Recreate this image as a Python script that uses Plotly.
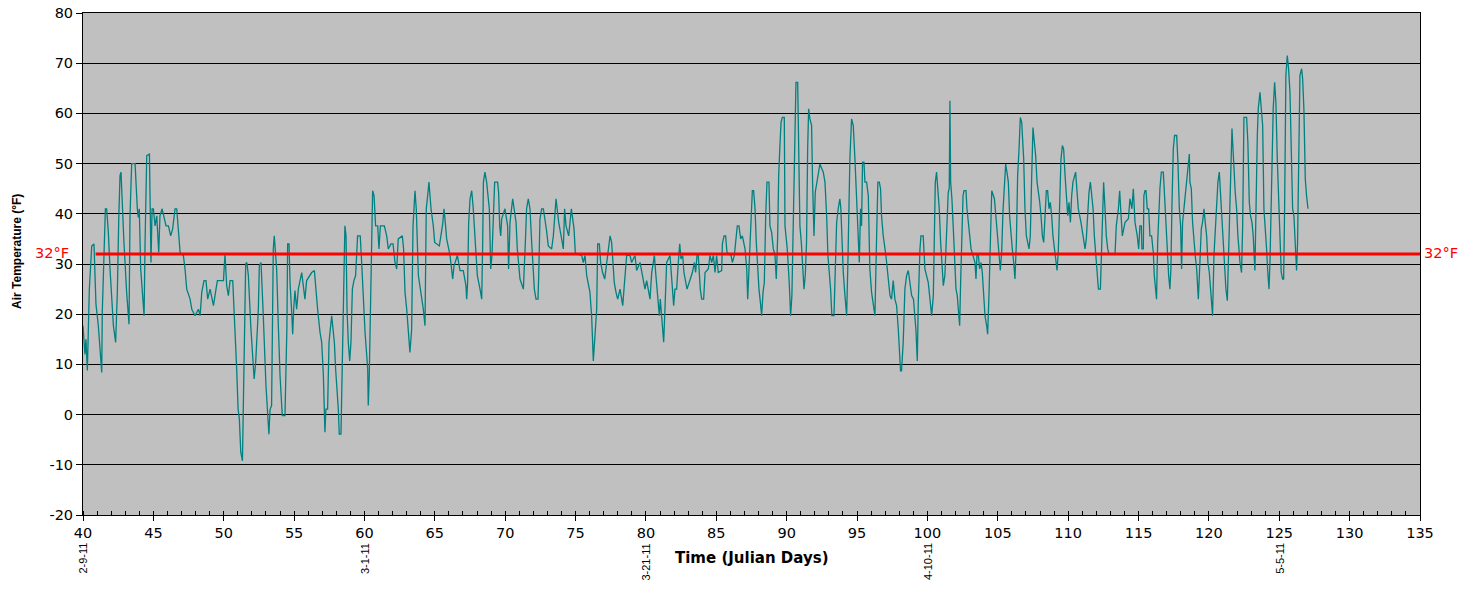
import plotly.graph_objects as go

# ---- data (Julian day, air temperature in °F) ----
julian_day = [
    40.00, 40.14, 40.21, 40.31, 40.38, 40.45, 40.55, 40.62, 40.78, 40.85, 40.92, 41.09, 41.33, 41.37, 41.49,
    41.59, 41.68, 41.80, 41.92, 42.16, 42.32, 42.44, 42.54, 42.63, 42.70, 42.77, 42.91, 43.10, 43.27, 43.34,
    43.46, 43.70, 43.77, 43.86, 43.93, 44.00, 44.10, 44.24, 44.34, 44.41, 44.53, 44.72, 44.76, 44.83, 44.91,
    45.00, 45.12, 45.24, 45.38, 45.47, 45.62, 45.76, 45.90, 46.07, 46.23, 46.37, 46.54, 46.66, 46.78, 46.90,
    47.13, 47.25, 47.37, 47.61, 47.73, 47.96, 48.20, 48.32, 48.44, 48.60, 48.74, 48.86, 49.03, 49.27, 49.45,
    49.55, 49.98, 50.09, 50.21, 50.33, 50.45, 50.64, 50.73, 50.81, 50.92, 51.02, 51.11, 51.21, 51.33, 51.40,
    51.47, 51.56, 51.64, 51.75, 51.92, 52.06, 52.16, 52.27, 52.35, 52.46,
    52.53, 52.65, 52.81, 53.00, 53.21, 53.29, 53.40, 53.45, 53.52, 53.59, 53.76, 53.88, 54.00, 54.16, 54.35,
    54.49, 54.54, 54.64, 54.71, 54.83, 54.90, 54.97, 55.06, 55.18, 55.30, 55.54, 55.65, 55.77, 55.89, 56.13,
    56.25, 56.44, 56.53, 56.67, 56.84, 56.96, 57.08, 57.15, 57.19, 57.26, 57.38, 57.48, 57.67, 57.86, 57.95,
    58.14, 58.21, 58.33, 58.40, 58.47, 58.54, 58.61, 58.69, 58.76, 58.85, 58.95, 59.04, 59.14, 59.25, 59.37,
    59.51, 59.70, 59.80, 59.92, 60.04, 60.23, 60.27, 60.34, 60.41, 60.51, 60.58, 60.68, 60.79, 60.94, 61.03,
    61.13, 61.41, 61.58, 61.69, 61.88, 62.03, 62.17, 62.29, 62.40, 62.69, 62.78, 62.88, 63.00, 63.12, 63.23,
    63.35, 63.45, 63.59, 63.68, 63.83, 64.06, 64.18, 64.30, 64.39, 64.49, 64.58, 64.73,
    64.89, 64.99, 65.32, 65.56, 65.65, 65.75, 65.84, 66.08, 66.27, 66.36, 66.60, 66.79, 67.02, 67.21, 67.26,
    67.33, 67.40, 67.50, 67.62, 67.73, 67.85, 68.02, 68.21, 68.33, 68.40, 68.45, 68.56, 68.68, 68.87, 68.97,
    69.06, 69.16, 69.25, 69.46, 69.53, 69.61, 69.68, 69.75, 69.98, 70.17, 70.24, 70.34, 70.53, 70.77, 70.86,
    71.05, 71.29, 71.43, 71.52, 71.64, 71.76, 71.88, 72.07, 72.19, 72.33, 72.38, 72.47, 72.59, 72.71, 72.94,
    73.06, 73.30, 73.42, 73.61, 73.80, 74.01, 74.13, 74.22, 74.32, 74.51, 74.70, 74.89, 74.98, 75.08, 75.43,
    75.55, 75.67, 75.79, 76.02, 76.14, 76.26, 76.36, 76.50, 76.57, 76.69, 76.78, 76.92, 77.07,
    77.21, 77.33, 77.45, 77.56, 77.63, 77.75, 77.87, 77.99, 78.16, 78.35, 78.44, 78.56, 78.63, 78.87, 78.98,
    79.22, 79.34, 79.58, 79.70, 79.93, 80.05, 80.29, 80.41, 80.60, 80.69, 80.88, 80.95, 81.02, 81.19, 81.26,
    81.35, 81.47, 81.71, 81.87, 81.97, 82.06, 82.18, 82.30, 82.40, 82.49, 82.61, 82.70, 82.92, 83.15, 83.30,
    83.44, 83.53, 83.63, 83.72, 83.86, 83.96, 84.10, 84.20, 84.43, 84.55, 84.67, 84.79, 84.91, 85.02, 85.14,
    85.38, 85.43, 85.55, 85.66, 85.76, 86.04, 86.14, 86.28, 86.37, 86.49, 86.61, 86.73, 86.85, 87.04, 87.16,
    87.23, 87.32, 87.39, 87.46, 87.56, 87.65, 87.75, 87.84, 87.94, 88.03, 88.13, 88.22, 88.32, 88.41, 88.51,
    88.60, 88.74, 88.81, 88.93, 89.05, 89.17, 89.26, 89.36, 89.43, 89.52, 89.60, 89.69, 89.83,
    89.88, 90.04, 90.18, 90.28, 90.37, 90.47, 90.51, 90.59, 90.66, 90.78, 90.85, 90.94, 91.04, 91.13, 91.23,
    91.32, 91.41, 91.49, 91.56, 91.65, 91.77, 91.84, 91.94, 92.03, 92.13, 92.36, 92.60, 92.72, 92.84, 92.93,
    93.12, 93.21, 93.36, 93.43, 93.55, 93.66, 93.78, 93.85, 93.93, 94.02, 94.14, 94.26, 94.35, 94.42, 94.49,
    94.61, 94.73, 94.85, 94.97, 95.09, 95.16, 95.25, 95.32, 95.39, 95.49, 95.56, 95.68, 95.80, 95.91, 96.03,
    96.15, 96.27, 96.39, 96.48, 96.58, 96.67, 96.74, 96.86, 97.05, 97.22, 97.34, 97.45, 97.57, 97.69, 97.81,
    97.93, 98.00, 98.09, 98.16, 98.28, 98.40, 98.52, 98.64, 98.76, 98.88, 99.01, 99.11, 99.18, 99.28, 99.35,
    99.47, 99.54, 99.70, 99.82, 100.06, 100.18, 100.30, 100.42, 100.49, 100.56, 100.65, 100.75, 100.84, 100.94, 101.03,
    101.13, 101.24, 101.36, 101.48, 101.55, 101.60, 101.65, 101.74, 101.84, 101.93, 102.03, 102.12,
    102.29, 102.36, 102.43, 102.53, 102.60, 102.74, 102.81, 103.03, 103.10, 103.38, 103.45, 103.52, 103.62, 103.71, 103.81,
    103.90, 104.00, 104.09, 104.21, 104.28, 104.38, 104.47, 104.57, 104.76, 104.85, 104.94, 105.04, 105.18, 105.28, 105.37,
    105.47, 105.56, 105.65, 105.75, 105.84, 105.94, 106.03, 106.13, 106.22, 106.32, 106.41, 106.51, 106.60, 106.70, 106.77,
    106.84, 106.93, 107.03, 107.22, 107.31, 107.41, 107.50, 107.60, 107.69, 107.79, 107.88, 107.98, 108.07, 108.17, 108.26,
    108.36, 108.45, 108.54, 108.64, 108.73, 108.83, 108.92, 109.11, 109.21, 109.30, 109.40, 109.49, 109.59, 109.68, 109.78,
    109.87, 109.97, 110.06, 110.16, 110.25, 110.34, 110.53, 110.63, 110.72, 110.91, 111.10, 111.20, 111.29, 111.39, 111.48,
    111.58, 111.67, 111.77, 111.86, 111.96, 112.05, 112.15, 112.29, 112.38, 112.45, 112.52, 112.62, 112.71, 112.81, 112.90,
    113.33, 113.42, 113.57, 113.66, 113.76, 113.85, 114.04, 114.28,
    114.39, 114.53, 114.63, 114.75, 114.91, 115.01, 115.10, 115.20, 115.24, 115.34, 115.38, 115.46, 115.53, 115.62, 115.72,
    115.81, 115.93, 116.05, 116.12, 116.28, 116.36, 116.43, 116.52, 116.62, 116.76, 116.85, 116.95, 117.04, 117.14, 117.23,
    117.30, 117.37, 117.47, 117.56, 117.71, 117.80, 117.90, 117.99, 118.06, 118.13, 118.32, 118.42, 118.51, 118.61, 118.65,
    118.75, 118.84, 118.94, 119.03, 119.13, 119.25, 119.36, 119.46, 119.55, 119.65, 119.74, 119.84, 119.93, 120.03, 120.12,
    120.22, 120.26, 120.36, 120.45, 120.55, 120.64, 120.74, 120.83, 120.93, 121.02, 121.12, 121.21, 121.31, 121.40, 121.50,
    121.54, 121.64, 121.69, 121.78, 121.87, 121.97, 122.06, 122.21, 122.32, 122.40, 122.44, 122.49, 122.68, 122.77, 122.87,
    122.96, 123.06, 123.15, 123.27, 123.34, 123.44, 123.51, 123.63, 123.72, 123.82, 123.91, 124.01, 124.10, 124.17, 124.27,
    124.34, 124.46, 124.57, 124.67, 124.76, 124.86, 124.95, 125.05, 125.14, 125.24, 125.31, 125.38, 125.47, 125.57, 125.66,
    125.76, 125.85, 125.95, 126.04, 126.11, 126.23, 126.30, 126.37, 126.47, 126.59, 126.66, 126.75, 126.85, 126.94, 127.04,
]

air_temp_f = [
    17.7, 12, 15, 8.8, 17, 25, 30, 33.6, 34, 28, 22, 17.7, 8.4, 20.4, 29.7,
    41, 41, 36.3, 29, 17.7, 14.4, 24.4, 39, 47.6, 48.3, 42.3, 34.3, 24.4, 18, 39.6,
    50, 50, 44.9, 41, 39.3, 41, 29, 24.4, 19.7, 34.3, 51.6, 51.9, 41, 30.3, 41,
    41, 37.6, 39.6, 32.3, 39.6, 41, 39.3, 37.6, 37.6, 35.6, 37, 41, 41, 35.6, 32.3,
    31.7, 29, 25, 23, 21, 19.7, 21, 19.7, 24.4, 26.7, 26.7, 23, 25, 21.7, 25,
    26.7, 26.7, 32, 25.7, 23.7, 26.7, 26.7, 21, 17, 9.1, 1.1, -0.9, -7.5, -9.2, 3.1,
    17, 30, 30.3, 27.7, 17.7, 10.4, 7.1, 10.4, 14.4, 21,
    29.7, 30.3, 19.7, 5.8, -3.9, 1, 1.8, 17.7, 33, 35.6, 29, 17.7, 7.8, -0.2, -0.2,
    17.7, 34, 34, 26.3, 20.4, 16, 21, 24.7, 21, 25, 28.3, 25.6, 23, 26.7, 27.7,
    28.3, 28.7, 25, 21, 16.4, 14.4, 7.8, 1.1, -3.5, 1.1, 1.1, 14.4, 19.7, 14.4, 9.1,
    1.1, -3.9, -3.9, 6.4, 14.4, 24.4, 37.6, 35.6, 21, 14.4, 10.7, 14.4, 25, 26.7, 27.7,
    35.6, 35.6, 30.3, 23.7, 16.4, 9.1, 1.8, 7.8, 17.7, 37.6, 44.6, 43.6, 37.6, 37.6, 33,
    37.6, 37.6, 35.6, 33, 34, 34, 30.3, 29, 35, 35.6, 33, 24.4, 21, 16.4, 12.4,
    16.9, 37.6, 44.6, 41, 27.7, 23.7, 21, 17.7, 41, 43.6, 46.3, 41,
    37.6, 34.3, 33.6, 38, 41, 38, 35, 31.7, 27, 29.6, 31.7, 28.7, 28.7, 25.7, 23,
    26.3, 38, 43, 44.6, 41, 34.3, 27.7, 25, 23, 34.3, 46.3, 48.3, 46.3, 41, 29,
    31.7, 41, 46.3, 46.3, 44.3, 37.6, 35.6, 39, 41, 37.6, 29, 38.3, 43, 38.3, 33,
    27, 25, 34.3, 41, 43, 41, 34.3, 25, 23, 23, 27.7, 39, 41, 41, 36.6,
    33.6, 33, 35.6, 43, 38.3, 35, 33, 41, 37.6, 35.6, 41, 37, 32.3, 32, 31.7,
    30.3, 31.7, 27.7, 24.4, 19.7, 10.7, 15, 21, 34, 34, 30.3, 28.3, 27,
    30.3, 33, 35.6, 34.3, 30.3, 26.3, 24.4, 23, 25, 21.7, 25, 30.3, 31.7, 31.7, 30.3,
    31.7, 28.7, 30.3, 28.3, 25, 26.7, 23, 28.3, 31.7, 28.3, 22.4, 19.7, 23, 17.7, 14.4,
    21, 30.3, 31.7, 24.4, 21.7, 25, 25, 30.3, 34, 31, 31.7, 28.3, 25, 27, 28.3,
    30.3, 28.3, 31.7, 31.7, 25, 23, 23, 28.3, 29, 31.7, 30.3, 31.7, 28.3, 31.7, 28.3,
    28.7, 34, 35.6, 35.6, 32.3, 31.7, 30.3, 31.7, 35, 37.6, 37.6, 35, 35.6, 33, 29,
    23, 29, 34.3, 39.6, 44.6, 44.6, 41, 34.3, 28.3, 25, 22.4, 19.7, 24.4, 26.3, 39.6,
    46.3, 46.3, 37.6, 36.3, 33, 31.7, 27, 35.6, 47.6, 53.6, 58.2, 59.2, 59.2,
    37.6, 33, 26.3, 19.7, 23.7, 39.6, 46.3, 57.6, 66.2, 66.2, 52.9, 37.6, 34.3, 28.3, 25,
    27.7, 34.3, 52.9, 60.9, 58.9, 57.6, 46.3, 35.6, 44.3, 46.3, 49.9, 48.3, 46.3, 39.6, 31.7,
    25, 19.7, 19.7, 27.7, 38.3, 41, 43, 41, 34.3, 28.3, 23.7, 19.7, 30.3, 41, 50.9,
    58.9, 57.6, 50.9, 42, 34.3, 30.3, 41, 37.6, 50.3, 50.3, 46.3, 46.3, 43.6, 29, 24.4,
    22.4, 19.7, 35.6, 46.3, 46.3, 45, 39.6, 35.6, 31.7, 26.3, 23.7, 23, 26.7, 23, 21.7,
    17, 12.4, 8.7, 8.7, 14.4, 25, 27.7, 28.7, 26.3, 23.7, 23, 19.7, 17, 10.7, 22.4,
    33, 35.6, 35.6, 29, 26.3, 22.4, 19.7, 23.7, 41, 46.3, 48.3, 45, 41, 34.3, 29,
    25.7, 27.7, 35.6, 44.3, 45, 62.5, 46.3, 43, 37, 30.3, 25, 23.7,
    17.7, 26.3, 34.3, 43.6, 44.6, 44.6, 41, 35.6, 33, 30.3, 27, 31.7, 31.7, 29, 30.3,
    28.3, 23, 19.7, 17.7, 16, 24.4, 37.6, 44.6, 43, 39.6, 35.6, 33.6, 28.7, 32.6, 40.6,
    46.3, 49.9, 48.3, 46.3, 39.6, 35.6, 33, 30.3, 27, 34.3, 47.6, 52.9, 59.2, 58.2, 54.2,
    50.9, 41, 35.6, 33, 35.6, 47.6, 57.2, 54.2, 51.6, 46.3, 44.6, 42.3, 39.6, 35.6, 34.3,
    41, 44.6, 44.6, 41, 42.3, 39.6, 35.6, 31.7, 28.7, 32.6, 43.6, 50.9, 53.6, 52.9, 47.6,
    43.6, 39.6, 42.3, 38.3, 43.6, 46.3, 48.3, 45, 41, 38.3, 34.3, 33, 35, 39.6, 44.3,
    46.3, 43.6, 41, 35.6, 31.7, 27.7, 25, 25, 33, 43.6, 46.3, 41, 35.6, 33, 32,
    32, 37.6, 41, 44.6, 39.6, 35.6, 38.3, 39,
    43, 41, 45, 38.3, 35.6, 33, 37.6, 37.6, 33, 33, 43.6, 44.6, 44.6, 41, 41,
    35.6, 35.6, 32.3, 27.7, 23, 34.3, 41, 45, 48.3, 48.3, 43.6, 37, 31.7, 27.7, 25,
    29, 41, 52.9, 55.6, 55.6, 50.3, 41, 37.6, 29, 38.3, 43.6, 47.6, 48.9, 51.9, 46.3,
    45, 38.3, 34.3, 31.7, 29, 23, 30.3, 37, 38.3, 41, 38.3, 35.6, 30.3, 28.3, 25,
    21, 19.7, 31.7, 37, 43.6, 46.3, 48.3, 43.6, 38.3, 34.3, 30.3, 25, 22.7, 31.7, 43.6,
    50.3, 57, 54.2, 48.9, 44.3, 41, 35.6, 30.3, 28.3, 37.6, 47.6, 59.2, 59.2, 54.2, 42.3,
    39.6, 38.3, 35.6, 28.7, 43.6, 55.6, 61, 64.2, 61, 57.6, 41, 37.6, 33, 29, 25,
    30.3, 44.6, 60.9, 66.2, 62.2, 50.9, 43.6, 37.6, 28.3, 27, 27, 41, 67.6, 71.5, 68.9,
    64.2, 51.6, 41, 39.6, 35.6, 28.7, 34.3, 54.2, 67.6, 68.9, 66.9, 60.9, 46.9, 43.6, 41,
]

freezing_temp_f = 32
freezing_line_days = [40.9, 135]
freezing_label = "32°F"

x_tick_values = [40, 45, 50, 55, 60, 65, 70, 75, 80, 85, 90, 95, 100, 105, 110, 115, 120, 125, 130, 135]
y_tick_values = [-20, -10, 0, 10, 20, 30, 40, 50, 60, 70, 80]
y_tick_labels = ["-20", "-10", "0", "10", "20", "30", "40", "50", "60", "70", "80"]

date_tick_days = [40, 60, 80, 100, 125]
date_tick_labels = ["2-9-11", "3-1-11", "3-21-11", "4-10-11", "5-5-11"]

x_title = "Time (Julian Days)"
y_title = "Air Temperature (°F)"

WIDE_FONT = "DejaVu Sans"
NARROW_FONT = "Liberation Sans, Arial"

fig = go.Figure()

fig.add_trace(go.Scatter(
    x=julian_day, y=air_temp_f, mode="lines",
    line=dict(color="#008080", width=1.3),
    showlegend=False, hoverinfo="x+y",
))

fig.add_trace(go.Scatter(
    x=freezing_line_days, y=[freezing_temp_f] * len(freezing_line_days), mode="lines",
    line=dict(color="#FF0000", width=3),
    showlegend=False, hoverinfo="skip",
))

annotations = []
for d, lab in zip(date_tick_days, date_tick_labels):
    annotations.append(dict(
        x=d, xref="x", y=-0.052, yref="paper", text=lab, showarrow=False,
        textangle=-90, xanchor="center", yanchor="top",
        font=dict(family=NARROW_FONT, size=11, color="black"),
    ))

annotations.append(dict(
    x=0.5, xref="paper", y=-0.086, yref="paper", text=f"<b>{x_title}</b>", showarrow=False,
    xanchor="center", yanchor="middle",
    font=dict(family=WIDE_FONT, size=15, color="black"),
))
annotations.append(dict(
    x=0, xref="paper", xshift=-66, y=0.524, yref="paper", text=f"<b>{y_title}</b>",
    showarrow=False, textangle=-90, xanchor="center", yanchor="middle",
    font=dict(family=NARROW_FONT, size=12, color="black"),
))
annotations.append(dict(
    x=0, xref="paper", xshift=-12, y=freezing_temp_f, yref="y", yshift=1, text=freezing_label,
    showarrow=False, xanchor="right", yanchor="middle",
    font=dict(family=WIDE_FONT, size=14.5, color="#FF0000"),
))
annotations.append(dict(
    x=1, xref="paper", xshift=2, y=freezing_temp_f, yref="y", yshift=1, text=freezing_label,
    showarrow=False, xanchor="left", yanchor="middle",
    font=dict(family=WIDE_FONT, size=14.5, color="#FF0000"),
))

# the page body adds an 8px offset, so the figure is sized to fit inside the window
fig.update_layout(
    width=1462, height=581,
    margin=dict(l=75, r=50, t=5, b=74, autoexpand=False),
    paper_bgcolor="white",
    plot_bgcolor="#C0C0C0",
    showlegend=False,
    annotations=annotations,
    xaxis=dict(
        range=[40, 135], tickmode="array", tickvals=x_tick_values, automargin=False,
        ticklabeloverflow="allow",
        ticks="outside", ticklen=5, tickcolor="black", tickwidth=1,
        showline=True, linecolor="black", linewidth=1, mirror=True,
        showgrid=False, zeroline=False,
        minor=dict(dtick=1, tick0=40, ticks="inside", ticklen=4, tickcolor="black", showgrid=False),
        tickfont=dict(family=WIDE_FONT, size=14.5, color="black"),
    ),
    yaxis=dict(
        range=[-20, 80], tickmode="array", tickvals=y_tick_values, ticktext=y_tick_labels,
        automargin=False, ticklabeloverflow="allow",
        ticks="outside", ticklen=6, tickcolor="black", tickwidth=1,
        showline=True, linecolor="black", linewidth=1, mirror=True,
        showgrid=True, gridcolor="black", gridwidth=1, zeroline=False,
        tickfont=dict(family=WIDE_FONT, size=14.5, color="black"),
    ),
)

fig.write_html("out.html")
